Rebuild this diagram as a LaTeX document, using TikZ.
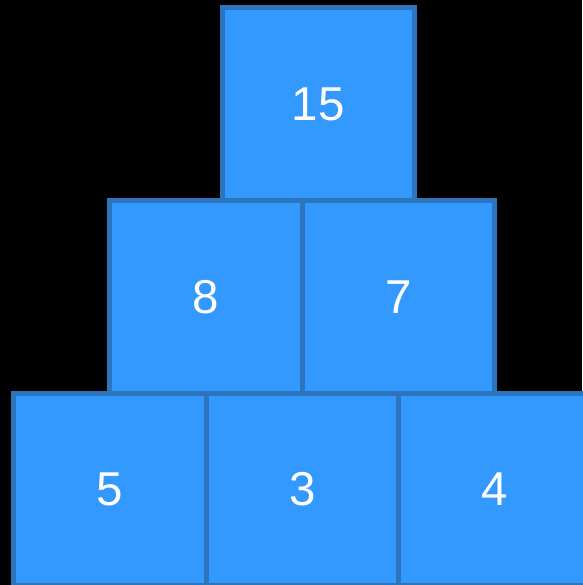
\documentclass[tikz,border=0pt]{standalone}
\usepackage{fontspec}
\setmainfont{Liberation Sans}
\usetikzlibrary{positioning}
\definecolor{boxblu}{RGB}{51,153,255}
\definecolor{bordoblu}{RGB}{44,117,188}

\begin{document}
\begin{tikzpicture}[x=1pt, y=-1pt,
    casella/.style={draw=bordoblu, fill=boxblu, line width=5pt, outer sep=0pt, inner sep=0pt,
        minimum size=192.5pt, text=white, font=\fontsize{47.5}{57}\selectfont}]
    %sfondo
    \fill[black] (0,0) rectangle (582,585);
    \useasboundingbox (0,0) rectangle (582,585);
    %riga in basso
    \node[casella] (c5) at (109.75,489.25) {5};
    \node[casella, right=0pt of c5] (c3) {3};
    \node[casella, right=0pt of c3] (c4) {4};
    %riga in mezzo
    \node[casella, anchor=south] (c8) at (c5.north east) {8};
    \node[casella, right=0pt of c8] (c7) {7};
    %casella in cima
    \node[casella, anchor=south, xshift=16pt] (c15) at (c8.north east) {15};
\end{tikzpicture}
\end{document}
